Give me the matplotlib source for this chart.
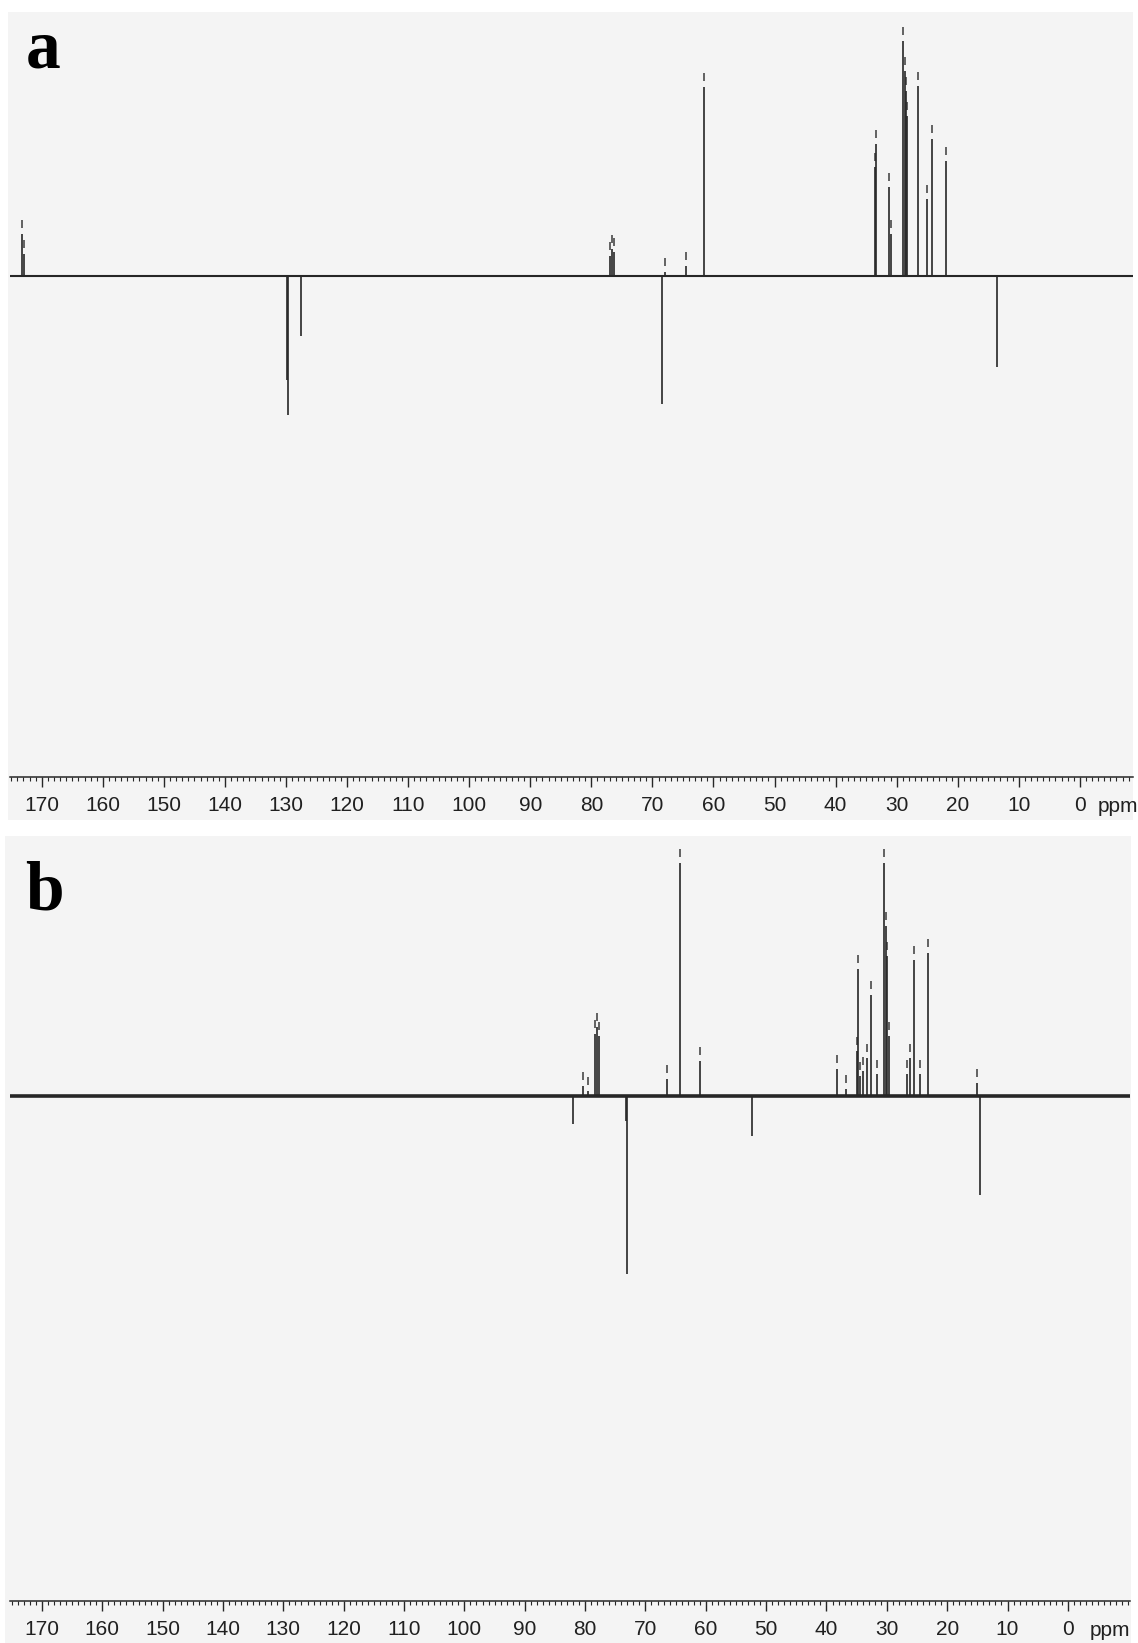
import matplotlib
matplotlib.use("Agg")
import matplotlib.pyplot as plt
from matplotlib.patches import Rectangle
from matplotlib.ticker import MultipleLocator

# panel a: chemical shift (ppm) and relative intensity (negative = inverted in DEPT)
ppm_a = [173.3, 172.9, 129.9, 129.7, 127.5, 76.9, 76.6, 76.3, 68.4, 67.9, 64.5, 61.5,
         33.6, 33.4, 31.3, 31.0, 29.0, 28.7, 28.5, 28.3, 26.5, 25.0, 24.2, 22.0, 13.5]
int_a = [42, 22, -104, -139, -60, 20, 27, 24, -128, 4, 10, 189,
         109, 132, 89, 42, 235, 205, 185, 160, 190, 77, 137, 115, -91]

# panel b
ppm_b = [82.0, 80.3, 79.6, 78.3, 78.0, 77.7, 73.2, 73.0, 66.4, 64.2, 61.0, 52.3,
         38.2, 36.8, 35.0, 34.8, 34.4, 34.0, 33.3, 32.6, 31.6, 30.4, 30.1, 29.9, 29.6,
         26.7, 26.2, 25.5, 24.5, 23.1, 15.0, 14.6]
int_b = [-28, 10, 5, 62, 69, 60, -25, -178, 17, 233, 35, -40,
         27, 7, 45, 127, 20, 25, 38, 101, 22, 233, 170, 140, 60,
         22, 38, 136, 22, 143, 13, -99]

tick_vals = list(range(170, -1, -10))
tick_labels = [str(v) for v in tick_vals]

ink = "#262626"
paper = "#f4f4f4"

fig = plt.figure(figsize=(11.38, 16.43), dpi=100)
fig.patch.set_facecolor("white")

# scanned-paper backgrounds for the two panels
fig.patches.append(Rectangle((0.007, 0.5009), 0.9886, 0.4918, transform=fig.transFigure,
                             facecolor=paper, edgecolor="none", zorder=-5))
fig.patches.append(Rectangle((0.004, 0.0), 0.9899, 0.4912, transform=fig.transFigure,
                             facecolor=paper, edgecolor="none", zorder=-5))


def draw_panel(ax, ppm, inten, xlim, ylim, base_lw, unit_x):
    ax.set_facecolor("none")
    ax.set_xlim(*xlim)
    ax.set_ylim(*ylim)
    ax.axhline(0, color=ink, lw=base_lw, zorder=2)
    ax.vlines(ppm, 0, inten, color=ink, lw=1.2, zorder=3)
    # peak-pick marks above positive signals
    pos = [(p, h) for p, h in zip(ppm, inten) if h > 2]
    ax.vlines([p for p, h in pos], [h + 6 for p, h in pos], [h + 14 for p, h in pos],
              color="#3a3a3a", lw=1.1)
    for s in ("top", "left", "right"):
        ax.spines[s].set_visible(False)
    ax.spines["bottom"].set_color(ink)
    ax.spines["bottom"].set_linewidth(1.1)
    ax.set_yticks([])
    ax.set_xticks(tick_vals)
    ax.set_xticklabels(tick_labels)
    ax.xaxis.set_minor_locator(MultipleLocator(1))
    ax.tick_params(axis="x", which="major", direction="out", length=7, width=1.0,
                   color=ink, labelsize=15, pad=7, labelcolor="#202020")
    ax.tick_params(axis="x", which="minor", direction="out", length=3, width=0.8, color=ink)
    for lab in ax.get_xticklabels():
        lab.set_family("Liberation Sans")
    ax.annotate("ppm", xy=(unit_x, 0), xycoords=("data", "axes fraction"),
                xytext=(0, -25), textcoords="offset points", ha="left", va="baseline",
                fontsize=15, family="Liberation Sans", color="#202020")


ax_a = fig.add_axes([0.00879, 0.5271, 0.9868, 0.4656])
draw_panel(ax_a, ppm_a, int_a, (175.2, -8.7), (-501, 264), 1.5, -2.9)
ax_b = fig.add_axes([0.00879, 0.02556, 0.9842, 0.4644])
draw_panel(ax_b, ppm_b, int_b, (175.3, -10.3), (-505, 258), 2.6, -3.6)

fig.text(26 / 1138, 1 - 68 / 1643, "a", fontsize=50, fontweight="bold",
         family="Liberation Serif", va="baseline", ha="left")
fig.text(25 / 1138, 1 - 910 / 1643, "b", fontsize=50, fontweight="bold",
         family="Liberation Serif", va="baseline", ha="left")

fig.savefig("out.png", dpi=100, facecolor="white")
